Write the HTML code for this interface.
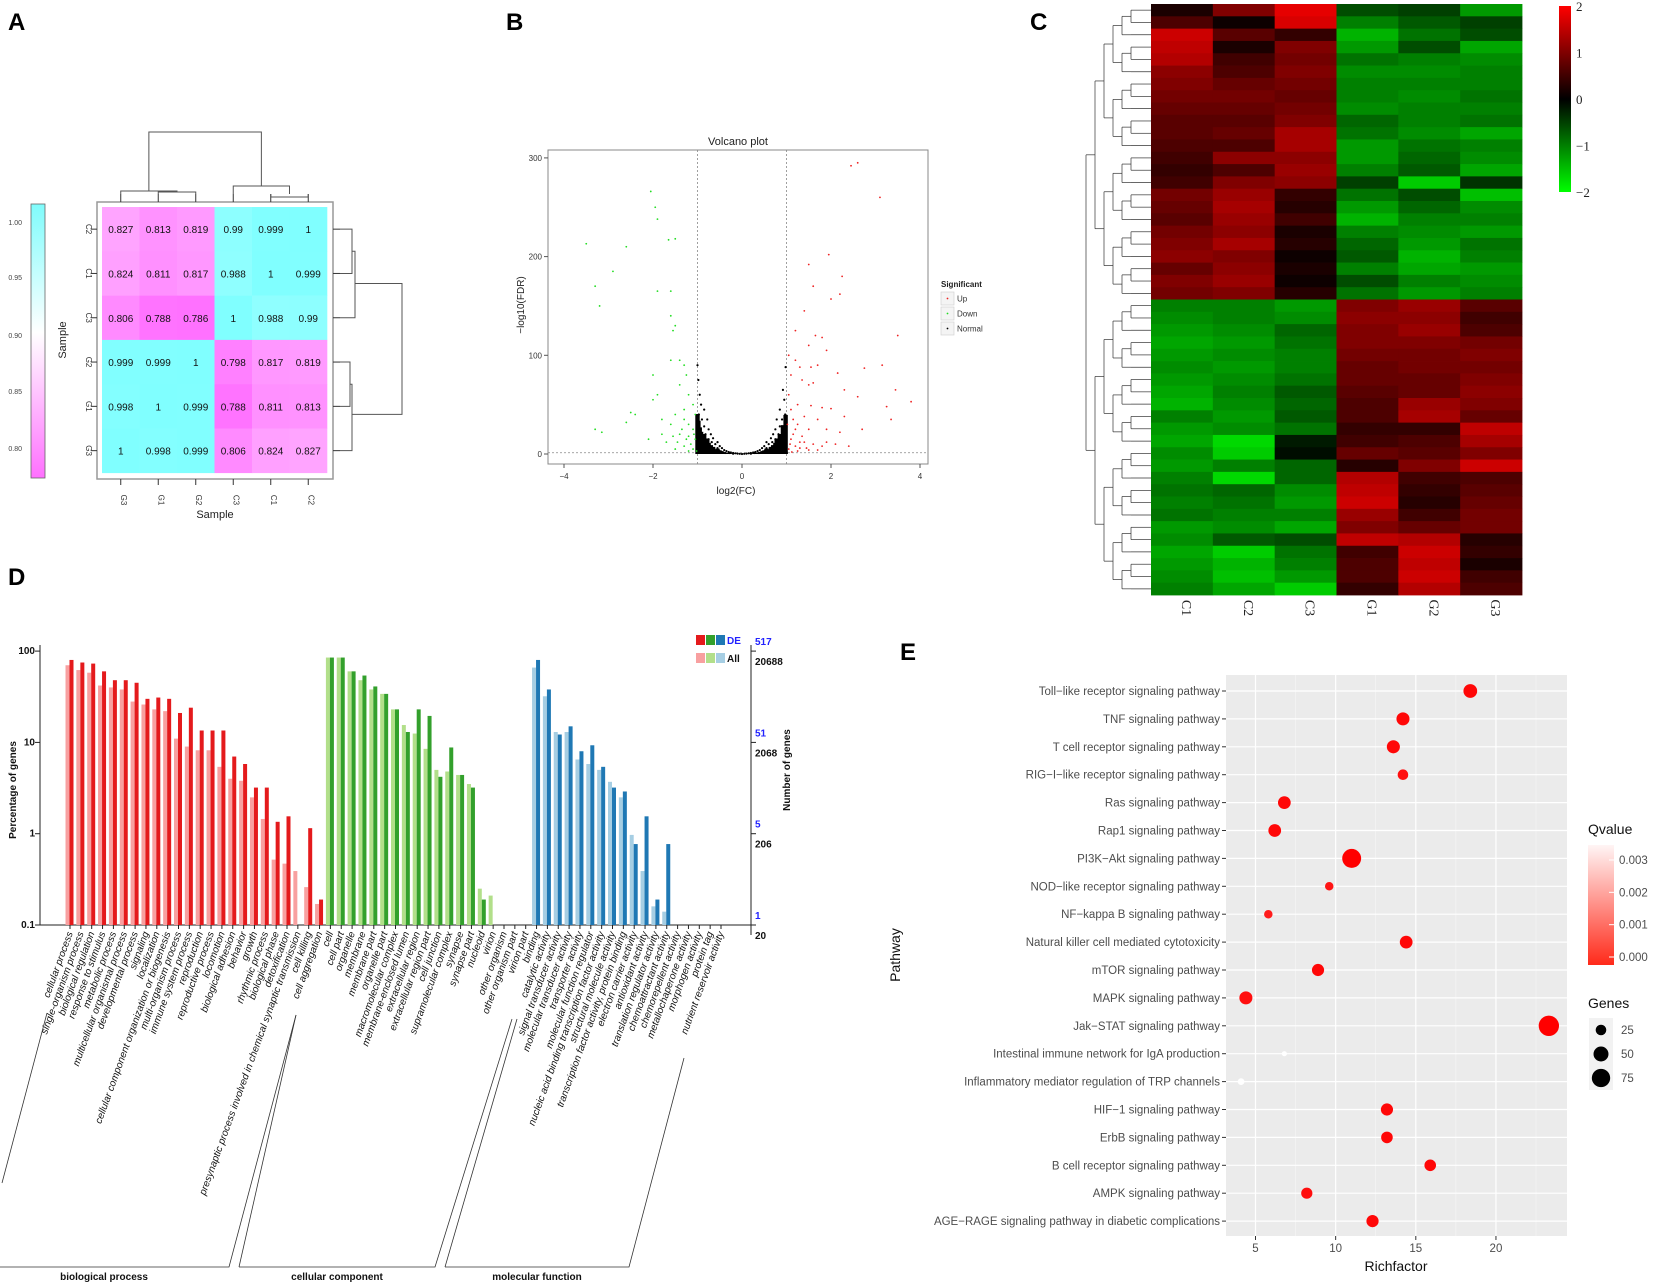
<!DOCTYPE html>
<html><head><meta charset="utf-8"><style>
html,body{margin:0;padding:0;background:#fff}
svg{display:block;font-family:"Liberation Sans",sans-serif}
</style></head><body>
<svg id="fig" width="1654" height="1285" viewBox="0 0 1654 1285">
<g font-weight="bold" font-size="24">
<text x="8" y="30">A</text>
<text x="506" y="30">B</text>
<text x="1030" y="30">C</text>
<text x="8" y="585">D</text>
<text x="900" y="660">E</text>
</g>
<g id="pa"></g>
<g id="pb"></g>
<g id="pc"></g>
<g id="pd"></g>
<g id="pe"></g>
</svg>
<script>
// ---------- Panel A data ----------
const aRows=["C2","C1","C3","G2","G1","G3"];
const aCols=["G3","G1","G2","C3","C1","C2"];
const aVals=[
[0.827,0.813,0.819,0.99,0.999,1],
[0.824,0.811,0.817,0.988,1,0.999],
[0.806,0.788,0.786,1,0.988,0.99],
[0.999,0.999,1,0.798,0.817,0.819],
[0.998,1,0.999,0.788,0.811,0.813],
[1,0.998,0.999,0.806,0.824,0.827]];
const aTicks=["1.00","0.95","0.90","0.85","0.80"];
// ---------- Panel B data ----------
const upPts=[[2.6,295],[2.45,292],[3.1,260],[1.95,202],[1.5,192],[2.25,180],[1.6,170],[2.2,162],[2,157],[1.4,145],[1.2,125],[1.65,120],[1.8,118],[3.5,120],[1.5,110],[1.9,105],[1.05,100],[1.2,95],[1.3,88],[1.55,88],[1.7,90],[3.15,90],[2.75,87],[2.15,82],[1.1,80],[1.35,75],[1.6,72],[1.5,70],[2.3,65],[3.45,65],[1.05,60],[2.6,58],[1.25,50],[1.55,49],[1.8,47],[2.0,46],[3.25,48],[3.8,53],[1.15,35],[1.4,38],[1.7,35],[2.3,38],[3.35,35],[1.2,25],[1.5,25],[1.9,25],[2.2,22],[2.7,25],[1.1,15],[1.3,12],[1.6,10],[1.8,8],[2.1,10],[1.05,5],[1.25,3],[1.5,4],[1.15,20],[1.35,18],[1.45,6],[1.08,10],[1.12,2],[1.3,6],[1.2,8],[1.4,12],[1.7,4],[1.9,12],[2.4,8],[1.02,30],[1.1,45],[1.25,30]];
const downPts=[[-3.5,213],[-3.3,170],[-3.2,150],[-2.6,210],[-2.9,185],[-2.05,266],[-1.95,250],[-1.9,238],[-1.9,165],[-1.6,165],[-1.6,140],[-1.5,130],[-1.55,125],[-1.5,218],[-1.65,217],[-3.3,25],[-3.15,22],[-2.4,40],[-2.5,42],[-2.6,32],[-2,80],[-2,55],[-1.9,60],[-1.6,95],[-1.4,95],[-1.3,90],[-1.25,80],[-1.2,60],[-1.3,45],[-1.4,70],[-1.5,40],[-1.8,20],[-2.1,15],[-1.2,30],[-1.1,25],[-1.05,15],[-1.15,10],[-1.3,8],[-1.5,5],[-1.7,12],[-1.1,5],[-1.2,3],[-1.4,20],[-1.6,30],[-1.8,35],[-1.05,40],[-1.1,50],[-1.02,3],[-1.25,15],[-1.35,25],[-1.45,12],[-1.08,20],[-1.2,18],[-1.3,35],[-1.55,18]];
const normalPts=[[-0.98,75],[-0.95,60],[-0.92,50],[-0.97,40],[-0.9,35],[-0.93,25],[-0.96,15],[-0.98,5],[-0.9,18],[-0.88,10],[-0.85,45],[-0.85,28],[-0.82,20],[-0.8,12],[-0.8,5],[-0.78,35],[-0.75,25],[-0.75,15],[-0.72,8],[-0.7,20],[-0.68,12],[-0.65,4],[-0.65,16],[-0.6,10],[-0.6,3],[-0.55,12],[-0.55,6],[-0.5,8],[-0.5,3],[-0.45,6],[-0.45,2],[-0.4,4],[-0.38,1],[-0.35,3],[-0.3,2],[-0.28,1],[-0.25,1.5],[-0.2,1],[-0.15,0.7],[-0.1,0.4],[-0.05,0.2],[0,0],[0.05,0.2],[0.1,0.4],[0.15,0.7],[0.2,1],[0.25,1.5],[0.28,1],[0.3,2],[0.35,3],[0.38,1],[0.4,4],[0.45,2],[0.45,6],[0.5,3],[0.5,8],[0.55,6],[0.55,12],[0.6,3],[0.6,10],[0.65,16],[0.65,4],[0.68,12],[0.7,20],[0.72,8],[0.75,15],[0.75,25],[0.78,35],[0.8,5],[0.8,12],[0.82,20],[0.85,28],[0.85,45],[0.88,10],[0.9,18],[0.9,35],[0.93,25],[0.95,55],[0.96,15],[0.97,40],[0.98,5],[0.98,88],[0.92,65],[-1.0,90],[0.2,0.3],[-0.2,0.3],[0.7,2],[-0.7,2],[0.85,6],[-0.85,6],[0.95,9],[-0.95,9]];
const bXTicks=[-4,-2,0,2,4];
const bYTicks=[0,100,200,300];
// ---------- Panel C data ----------
const cCols=["C1","C2","C3","G1","G2","G3"];
const cVals=[
[0.2,1.0,1.8,-0.6,-0.5,-1.2],[0.6,0.1,1.7,-1.0,-0.7,-0.5],[1.6,0.7,0.4,-1.4,-0.9,-0.6],[1.5,0.2,1.0,-1.2,-0.6,-1.3],
[1.4,0.5,0.9,-0.9,-1.0,-1.1],[1.1,0.6,1.0,-1.1,-1.1,-1.0],[1.0,0.8,0.9,-1.0,-1.0,-1.0],[0.9,0.9,0.8,-1.0,-1.1,-0.9],
[0.8,0.8,0.9,-1.1,-1.0,-1.0],[0.7,0.7,1.0,-0.8,-1.0,-0.9],[0.7,0.8,1.3,-0.9,-1.1,-1.3],[0.6,0.6,1.3,-1.2,-0.9,-1.0],
[0.5,1.1,1.1,-1.2,-0.8,-1.1],[0.4,0.6,1.2,-1.0,-0.7,-1.3],[0.5,1.0,1.1,-0.5,-1.6,-0.4],[0.9,1.2,0.4,-0.9,-0.6,-1.5],
[0.8,1.3,0.3,-1.2,-0.8,-1.1],[0.7,1.2,0.5,-1.4,-1.0,-1.0],[0.9,1.1,0.2,-1.0,-1.1,-1.2],[1.0,1.3,0.3,-0.8,-1.2,-0.9],
[1.1,1.0,0.1,-0.7,-1.4,-1.0],[0.8,1.1,0.2,-1.0,-1.3,-1.2],[1.0,1.2,0.1,-0.6,-1.0,-1.1],[0.9,1.0,0.3,-0.9,-1.2,-1.0],
[-1.0,-1.0,-1.2,1.0,1.2,0.7],[-1.1,-1.0,-1.1,1.1,1.1,0.5],[-1.2,-1.1,-0.8,1.0,1.2,0.6],[-1.3,-1.2,-0.9,1.0,1.0,0.9],
[-1.2,-1.1,-1.0,0.9,0.9,1.0],[-1.1,-1.2,-1.0,0.8,0.9,0.9],[-1.2,-1.1,-0.9,0.8,0.8,1.0],[-1.3,-1.0,-0.7,0.7,0.8,1.1],
[-1.4,-1.1,-0.8,0.6,1.2,1.0],[-1.0,-1.2,-0.7,0.6,1.3,0.8],[-1.2,-1.1,-0.9,0.4,0.4,1.5],[-1.3,-1.7,-0.2,0.5,0.6,1.3],
[-1.1,-1.6,-0.1,0.8,0.7,1.0],[-1.2,-1.0,-0.8,0.3,1.0,1.6],[-1.0,-1.7,-0.8,1.4,0.5,0.6],[-0.9,-0.8,-1.1,1.5,0.4,0.7],
[-1.0,-0.9,-1.2,1.6,0.3,0.8],[-0.9,-1.0,-1.0,1.2,0.5,0.9],[-1.2,-1.1,-1.3,1.0,0.8,0.9],[-1.1,-0.7,-0.6,1.5,1.4,0.3],
[-1.3,-1.6,-0.9,0.5,1.6,0.4],[-1.2,-1.4,-1.0,0.6,1.5,0.2],[-1.1,-1.5,-1.2,0.6,1.6,0.5],[-1.0,-1.3,-1.6,0.4,1.4,0.6]];
const cTicks=[2,1,0,-1,-2];
// ---------- Panel D data ----------
const dCats=["cellular process","single-organism process","biological regulation","response to stimulus","metabolic process","multicellular organismal process","developmental process","signaling","localization","cellular component organization or biogenesis","multi-organism process","immune system process","reproduction","reproductive process","locomotion","biological adhesion","behavior","growth","rhythmic process","biological phase","detoxification","presynaptic process involved in chemical synaptic transmission","cell killing","cell aggregation",
"cell","cell part","organelle","membrane","membrane part","organelle part","macromolecular complex","membrane-enclosed lumen","extracellular region","extracellular region part","cell junction","supramolecular complex","synapse","synapse part","nucleoid","virion","other organism","other organism part","virion part",
"binding","catalytic activity","signal transducer activity","molecular transducer activity","transporter activity","molecular function regulator","nucleic acid binding transcription factor activity","structural molecule activity","transcription factor activity, protein binding","electron carrier activity","antioxidant activity","translation regulator activity","chemoattractant activity","chemorepellent activity","metallochaperone activity","morphogen activity","protein tag","nutrient reservoir activity"];
const dGroup=[0,0,0,0,0,0,0,0,0,0,0,0,0,0,0,0,0,0,0,0,0,0,0,0,1,1,1,1,1,1,1,1,1,1,1,1,1,1,1,1,1,1,1,2,2,2,2,2,2,2,2,2,2,2,2,2,2,2,2,2,2];
const dAll=[70,62,58,42,40,38,28,26,23,22,11,9,8.2,8.2,5.4,4,3.8,2.5,1.45,0.52,0.47,0.39,0.26,0.17,
85,85,60,48,38,34,23,15.5,12.5,8.5,5,4.8,4.4,3.5,0.25,0.21,0,0,0,
66,32,13,13,6.5,5.8,5,3.7,2.5,0.97,0.39,0.16,0.14,0,0,0,0,0];
const dDE=[80,75,73,60,48,48,45,30,31,30,21,24,13.5,13.5,13.5,7,5.8,3.2,3.2,1.35,1.55,0,1.15,0.19,
85,85,60,54,41,34,23,13,23,19.5,4.2,8.8,4.4,3.2,0.19,0,0,0,0,
80,38,12.2,15,8,9.3,5.4,3.2,2.9,0.77,1.55,0.19,0.77,0,0,0,0,0];
const dLeftTicks=[100,10,1,0.1];
const dRightDE=["517","51","5","1"];
const dRightAll=["20688","2068","206","20"];
// ---------- Panel E data ----------
const ePaths=["Toll\u2212like receptor signaling pathway","TNF signaling pathway","T cell receptor signaling pathway","RIG\u2212I\u2212like receptor signaling pathway","Ras signaling pathway","Rap1 signaling pathway","PI3K\u2212Akt signaling pathway","NOD\u2212like receptor signaling pathway","NF\u2212kappa B signaling pathway","Natural killer cell mediated cytotoxicity","mTOR signaling pathway","MAPK signaling pathway","Jak\u2212STAT signaling pathway","Intestinal immune network for IgA production","Inflammatory mediator regulation of TRP channels","HIF\u22121 signaling pathway","ErbB signaling pathway","B cell receptor signaling pathway","AMPK signaling pathway","AGE\u2212RAGE signaling pathway in diabetic complications"];
const eRich=[18.4,14.2,13.6,14.2,6.8,6.2,11.0,9.6,5.8,14.4,8.9,4.4,23.3,6.8,4.1,13.2,13.2,15.9,8.2,12.3];
const eGenes=[42,38,38,25,36,36,80,16,16,36,33,38,92,6,10,33,30,30,28,33];
const eQ=[0.0001,0.0001,0.0001,0.0002,0.0001,0.0001,0.0000,0.0003,0.0004,0.0001,0.0001,0.0002,0.0000,0.0036,0.0036,0.0001,0.0001,0.0001,0.0002,0.0001];
const eXTicks=[5,10,15,20];
const eQTicks=[0.003,0.002,0.001,0.000];
const eSizeTicks=[25,50,75];

const NS="http://www.w3.org/2000/svg";
function mk(parent,tag,attrs,txt){const e=document.createElementNS(NS,tag);for(const k in attrs)e.setAttribute(k,attrs[k]);if(txt!==undefined)e.textContent=txt;parent.appendChild(e);return e;}

// ===== Panel A =====
(function(){
const g=document.getElementById('pa');
const x0=102,y0=207,cw=37.5,ch=44.3;
function col(v){if(v>=0.9){const f=Math.min(1,(v-0.9)/0.1);return `rgb(${Math.round(255-127*f)},255,255)`;}
const f=Math.min(1,(0.9-v)/0.12);return `rgb(255,${Math.round(255-150*f)},255)`;}
let e=mk(g,'rect',{x:97,y:202,width:236,height:277,fill:'#fff',stroke:'#999','stroke-width':1.5});

aVals.forEach((row,i)=>row.forEach((v,j)=>{
 const r=mk(g,'rect',{x:x0+j*cw,y:y0+i*ch,width:cw+0.3,height:ch+0.3,fill:col(v)});
 
 const t=mk(g,'text',{x:x0+j*cw+cw/2,y:y0+i*ch+ch/2+4,'font-size':10,'text-anchor':'middle',fill:'#111'},String(v));
 
}));
aRows.forEach((n,i)=>{const y=y0+i*ch+ch/2;
 mk(g,'line',{x1:91,x2:97,y1:y,y2:y,stroke:'#333'});
 const t=mk(g,'text',{x:86,y:y,'font-size':8,'text-anchor':'middle',transform:`rotate(90 86 ${y})`,fill:'#333'},n);
 
 mk(g,'line',{x1:333,x2:340,y1:y,y2:y,stroke:'#333'});
});
aCols.forEach((n,j)=>{const x=x0+j*cw+cw/2;
 mk(g,'line',{x1:x,x2:x,y1:479,y2:485,stroke:'#333'});
 mk(g,'line',{x1:x,x2:x,y1:194,y2:202,stroke:'#333'});
 const t=mk(g,'text',{x:x,y:500,'font-size':8,'text-anchor':'middle',transform:`rotate(90 ${x} 500)`,fill:'#333'},n);
 
});
let t=mk(g,'text',{x:215,y:518,'font-size':11,'text-anchor':'middle',fill:'#222'},'Sample');
t=mk(g,'text',{x:66,y:340,'font-size':11,'text-anchor':'middle',transform:'rotate(-90 66 340)',fill:'#222'},'Sample');
const cx=j=>x0+j*cw+cw/2, ry=i=>y0+i*ch+ch/2;
const dl=(pts)=>mk(g,'polyline',{points:pts.map(p=>p.join(',')).join(' '),fill:'none',stroke:'#555','stroke-width':1});
dl([[cx(1),194],[cx(1),192],[cx(2),192],[cx(2),194]]);
dl([[cx(0),194],[cx(0),191],[(cx(1)+cx(2))/2,191],[(cx(1)+cx(2))/2,192]]);
dl([[cx(4),194],[cx(4),197],[cx(5),197],[cx(5),194]]);
dl([[cx(3),194],[cx(3),186],[(cx(4)+cx(5))/2,186],[(cx(4)+cx(5))/2,194]]);
dl([[(cx(0)+cx(1.5))/2,191],[(cx(0)+cx(1.5))/2,132],[(cx(3)+cx(4.5))/2,132],[(cx(3)+cx(4.5))/2,186]]);
dl([[340,ry(0)],[352,ry(0)],[352,ry(1)],[340,ry(1)]]);
dl([[340,ry(2)],[355,ry(2)],[355,(ry(0)+ry(1))/2],[352,(ry(0)+ry(1))/2]]);
dl([[340,ry(3)],[350,ry(3)],[350,ry(4)],[340,ry(4)]]);
dl([[340,ry(5)],[352,ry(5)],[352,(ry(3)+ry(4))/2],[350,(ry(3)+ry(4))/2]]);
dl([[355,(ry(0)+ry(2))/2+10],[402,(ry(0)+ry(2))/2+10],[402,(ry(3)+ry(5))/2+8],[352,(ry(3)+ry(5))/2+8]]);
const defs=mk(g,'defs',{});const lg=mk(defs,'linearGradient',{id:'agrad',x1:0,y1:0,x2:0,y2:1});
mk(lg,'stop',{offset:'0','stop-color':'#7ffcfc'});mk(lg,'stop',{offset:'0.47','stop-color':'#ffffff'});mk(lg,'stop',{offset:'1','stop-color':'#ff70ff'});
e=mk(g,'rect',{x:31,y:204,width:14,height:274,fill:'url(#agrad)',stroke:'#666','stroke-width':0.8});

const ty=[222,277,335,391,448];
aTicks.forEach((s,i)=>{const t=mk(g,'text',{x:22,y:ty[i]+3,'font-size':7,'text-anchor':'end',fill:'#444'},s);});
})();

// ===== Panel B =====
(function(){
const g=document.getElementById('pb');
const X=v=>742+v*44.5, Y=v=>454-v*0.987;
let e=mk(g,'rect',{x:548,y:150,width:380,height:314,fill:'#fff',stroke:'#888','stroke-width':1});

[-1,1].forEach(v=>mk(g,'line',{x1:X(v),x2:X(v),y1:150,y2:464,stroke:'#888','stroke-dasharray':'2,2','stroke-width':0.8}));
mk(g,'line',{x1:548,x2:928,y1:Y(1.3),y2:Y(1.3),stroke:'#888','stroke-dasharray':'2,2','stroke-width':0.8});
// density band of the normal cloud (lower part of each point's column)
normalPts.forEach(p=>{const top=Y(p[1]*0.45);const c=mk(g,'rect',{x:X(p[0])-2.2,y:top,width:4.4,height:Math.max(0,Y(0)-top),fill:'#000'});});
normalPts.forEach(p=>{const c=mk(g,'circle',{cx:X(p[0]),cy:Y(p[1]),r:1.1,fill:'#000'});});
downPts.forEach(p=>{const c=mk(g,'circle',{cx:X(p[0]),cy:Y(p[1]),r:0.9,fill:'#22dd22'});});
upPts.forEach(p=>{const c=mk(g,'circle',{cx:X(p[0]),cy:Y(p[1]),r:0.9,fill:'#ee2222'});});
bXTicks.forEach(v=>{mk(g,'line',{x1:X(v),x2:X(v),y1:464,y2:468,stroke:'#555'});const t=mk(g,'text',{x:X(v),y:479,'font-size':8,'text-anchor':'middle',fill:'#333'},v<0?'\u2212'+(-v):String(v));});
bYTicks.forEach(v=>{mk(g,'line',{x1:544,x2:548,y1:Y(v),y2:Y(v),stroke:'#555'});const t=mk(g,'text',{x:542,y:Y(v)+3,'font-size':8,'text-anchor':'end',fill:'#333'},String(v));});
let t=mk(g,'text',{x:738,y:145,'font-size':11,'text-anchor':'middle',fill:'#222'},'Volcano plot');
t=mk(g,'text',{x:736,y:494,'font-size':10,'text-anchor':'middle',fill:'#222'},'log2(FC)');
t=mk(g,'text',{x:524,y:305,'font-size':10,'text-anchor':'middle',transform:'rotate(-90 524 305)',fill:'#222'},'\u2212log10(FDR)');
t=mk(g,'text',{x:941,y:287,'font-size':8,'font-weight':'bold',fill:'#222'},'Significant');
[['Up','#ee2222'],['Down','#22dd22'],['Normal','#000']].forEach((d,i)=>{const y=292+i*15;
 mk(g,'rect',{x:941,y:y,width:13,height:13,fill:'#f4f4f4',stroke:'#ccc','stroke-width':0.6});
 mk(g,'circle',{cx:947.5,cy:y+6.5,r:0.9,fill:d[1]});
 const tt=mk(g,'text',{x:957,y:y+9.5,'font-size':8,fill:'#333'},d[0]);});
})();

// ===== Panel C =====
(function(){
const g=document.getElementById('pc');
const x0=1151,x1=1522,y0=4,y1=595;const cw=(x1-x0)/6,rh=(y1-y0)/cVals.length;
function col(v){v=Math.max(-2,Math.min(2,v));return v>=0?`rgb(${Math.round(v/2*255)},0,0)`:`rgb(0,${Math.round(-v/2*255)},0)`;}
cVals.forEach((row,i)=>row.forEach((v,j)=>{const r=mk(g,'rect',{x:x0+j*cw,y:y0+i*rh,width:cw+0.4,height:rh+0.4,fill:col(v)});}));
cCols.forEach((n,j)=>{const x=x0+j*cw+cw/2;const t=mk(g,'text',{x:x,y:608,'font-family':'Liberation Serif, serif','font-size':14,'text-anchor':'middle',transform:`rotate(90 ${x} 608)`,fill:'#222'},n);});
function tree(a,b,depth){const x=1086+Math.min(depth,6)*9+(depth>5?(depth-5)*2:0);
 if(b-a<1){mk(g,'line',{x1:x,x2:x0,y1:y0+(a+0.5)*rh,y2:y0+(a+0.5)*rh,stroke:'#333','stroke-width':0.7});return y0+(a+0.5)*rh;}
 const m=Math.floor((a+b)/2);const ya=tree(a,m,depth+1),yb=tree(m+1,b,depth+1);
 const cx=1086+Math.min(depth+1,6)*9+(depth+1>5?(depth-4)*2:0);
 mk(g,'line',{x1:x,x2:x,y1:ya,y2:yb,stroke:'#333','stroke-width':0.7});
 mk(g,'line',{x1:x,x2:cx,y1:ya,y2:ya,stroke:'#333','stroke-width':0.7});
 mk(g,'line',{x1:x,x2:cx,y1:yb,y2:yb,stroke:'#333','stroke-width':0.7});
 return (ya+yb)/2;}
tree(0,cVals.length-1,0);
const defs=mk(g,'defs',{});const lg=mk(defs,'linearGradient',{id:'cgrad',x1:0,y1:0,x2:0,y2:1});
mk(lg,'stop',{offset:'0','stop-color':'#ff0000'});mk(lg,'stop',{offset:'0.5','stop-color':'#000'});mk(lg,'stop',{offset:'1','stop-color':'#00ff00'});
const e=mk(g,'rect',{x:1559,y:6,width:12,height:186,fill:'url(#cgrad)'});
cTicks.forEach((v,i)=>{const t=mk(g,'text',{x:1576,y:6+i*46.5+5,'font-family':'Liberation Serif, serif','font-size':13,fill:'#222'},v<0?'\u2212'+(-v):String(v));});
})();

// ===== Panel D =====
(function(){
const g=document.getElementById('pd');
const Y=v=>925-(Math.log10(v)+1)*91.3;const X=i=>70+i*10.85;
const dark=['#e41a1c','#33a02c','#1f78b4'],light=['#f8a0a0','#b2df8a','#a6cee3'];
mk(g,'line',{x1:40,x2:40,y1:645,y2:925,stroke:'#222'});
mk(g,'line',{x1:40,x2:751,y1:925,y2:925,stroke:'#222'});
mk(g,'line',{x1:751,x2:751,y1:645,y2:935,stroke:'#222'});
dLeftTicks.forEach(v=>{mk(g,'line',{x1:35,x2:40,y1:Y(v),y2:Y(v),stroke:'#222'});const t=mk(g,'text',{x:35,y:Y(v)+3,'font-size':10,'font-weight':'bold','text-anchor':'end',fill:'#111'},String(v));});
dLeftTicks.forEach((v,i)=>{mk(g,'line',{x1:751,x2:756,y1:Y(v),y2:Y(v),stroke:'#222'});
 let t=mk(g,'text',{x:755,y:Y(v)-6,'font-size':10,'font-weight':'bold',fill:'#2222ff'},dRightDE[i]);
 t=mk(g,'text',{x:755,y:Y(v)+14,'font-size':10,'font-weight':'bold',fill:'#111'},dRightAll[i]);});
dCats.forEach((c,i)=>{const x=X(i),gr=dGroup[i];
 mk(g,'line',{x1:x,x2:x,y1:925,y2:929,stroke:'#222'});
 if(dAll[i]>0){const r=mk(g,'rect',{x:x-4.5,y:Y(dAll[i]),width:4,height:925-Y(dAll[i]),fill:light[gr]});}
 if(dDE[i]>0){const r=mk(g,'rect',{x:x-0.5,y:Y(dDE[i]),width:4,height:925-Y(dDE[i]),fill:dark[gr]});}
 const t=mk(g,'text',{x:x+3,y:933,'font-size':10,'font-style':'italic','text-anchor':'end',transform:`rotate(-70 ${x+3} 933)`,fill:'#111'},c);
});
let t=mk(g,'text',{x:16,y:790,'font-size':10,'font-weight':'bold','text-anchor':'middle',transform:'rotate(-90 16 790)',fill:'#111'},'Percentage of genes');
t=mk(g,'text',{x:790,y:770,'font-size':10,'font-weight':'bold','text-anchor':'middle',transform:'rotate(-90 790 770)',fill:'#111'},'Number of genes');
[0,1,2].forEach(k=>{mk(g,'rect',{x:696+k*10,y:635,width:9,height:10,fill:dark[k]});mk(g,'rect',{x:696+k*10,y:653,width:9,height:10,fill:light[k]});});
t=mk(g,'text',{x:727,y:644,'font-size':10,'font-weight':'bold',fill:'#2222ff'},'DE');
t=mk(g,'text',{x:727,y:662,'font-size':10,'font-weight':'bold',fill:'#111'},'All');
const br=[[[2,1183],[47,1013]],[[0,1267],[229,1267],[296,1015]],[[239,1267],[296,1015]],[[239,1267],[435,1267],[512,1019]],[[445,1267],[517,1019]],[[445,1267],[629,1267],[684,1058]]];
br.forEach(p=>mk(g,'polyline',{points:p.map(q=>q.join(',')).join(' '),fill:'none',stroke:'#333','stroke-width':0.8}));
[['biological process',104],['cellular component',337],['molecular function',537]].forEach(d=>{const tt=mk(g,'text',{x:d[1],y:1280,'font-size':10,'font-weight':'bold','text-anchor':'middle',fill:'#111'},d[0]);});
})();

// ===== Panel E =====
(function(){
const g=document.getElementById('pe');
const X=v=>1255.5+(v-5)*16.03, Y=i=>691+i*27.9;
let e=mk(g,'rect',{x:1226,y:675,width:341,height:561,fill:'#ebebeb'});
[2.5,7.5,12.5,17.5,22.5].forEach(v=>{if(X(v)>1226&&X(v)<1567)mk(g,'line',{x1:X(v),x2:X(v),y1:675,y2:1236,stroke:'#f6f6f6','stroke-width':0.6});});
eXTicks.forEach(v=>mk(g,'line',{x1:X(v),x2:X(v),y1:675,y2:1236,stroke:'#fff','stroke-width':1.2}));
ePaths.forEach((p,i)=>{mk(g,'line',{x1:1226,x2:1567,y1:Y(i),y2:Y(i),stroke:'#fff','stroke-width':1.2});
 mk(g,'line',{x1:1222,x2:1226,y1:Y(i),y2:Y(i),stroke:'#333'});
 const t=mk(g,'text',{x:1220,y:Y(i)+4,'font-size':11.5,'text-anchor':'end',fill:'#4d4d4d'},p);});
function qcol(q){const f=Math.max(0,Math.min(1,q/0.0036));return `rgb(255,${Math.round(255*f)},${Math.round(255*f)})`;}
const R=n=>1.06*Math.sqrt(n);
ePaths.forEach((p,i)=>{const c=mk(g,'circle',{cx:X(eRich[i]),cy:Y(i),r:R(eGenes[i]),fill:qcol(eQ[i])});});
eXTicks.forEach(v=>{mk(g,'line',{x1:X(v),x2:X(v),y1:1236,y2:1240,stroke:'#333'});const t=mk(g,'text',{x:X(v),y:1252,'font-size':11.5,'text-anchor':'middle',fill:'#4d4d4d'},String(v));});
let t=mk(g,'text',{x:1396,y:1271,'font-size':14,'text-anchor':'middle',fill:'#111'},'Richfactor');
t=mk(g,'text',{x:900,y:955,'font-size':14,'text-anchor':'middle',transform:'rotate(-90 900 955)',fill:'#111'},'Pathway');
t=mk(g,'text',{x:1588,y:834,'font-size':14,fill:'#111'},'Qvalue');
const defs=mk(g,'defs',{});const lg=mk(defs,'linearGradient',{id:'qgrad',x1:0,y1:0,x2:0,y2:1});
mk(lg,'stop',{offset:'0','stop-color':'#fff5f5'});mk(lg,'stop',{offset:'1','stop-color':'#ff2a1a'});
e=mk(g,'rect',{x:1588,y:845,width:26,height:120,fill:'url(#qgrad)'});
eQTicks.forEach(q=>{const y=965-8-q/0.003*(965-8-860);mk(g,'line',{x1:1609,x2:1614,y1:y,y2:y,stroke:'#fff'});const tt=mk(g,'text',{x:1619,y:y+4,'font-size':11.5,fill:'#4d4d4d'},q.toFixed(3));});
t=mk(g,'text',{x:1588,y:1008,'font-size':14,fill:'#111'},'Genes');
eSizeTicks.forEach((n,i)=>{const y=1030+i*24;mk(g,'rect',{x:1589,y:y-12,width:24,height:24,fill:'#f2f2f2'});const c=mk(g,'circle',{cx:1601,cy:y,r:R(n),fill:'#000'});
 const tt=mk(g,'text',{x:1621,y:y+4,'font-size':11.5,fill:'#4d4d4d'},String(n));});
})();
</script>
</body></html>
